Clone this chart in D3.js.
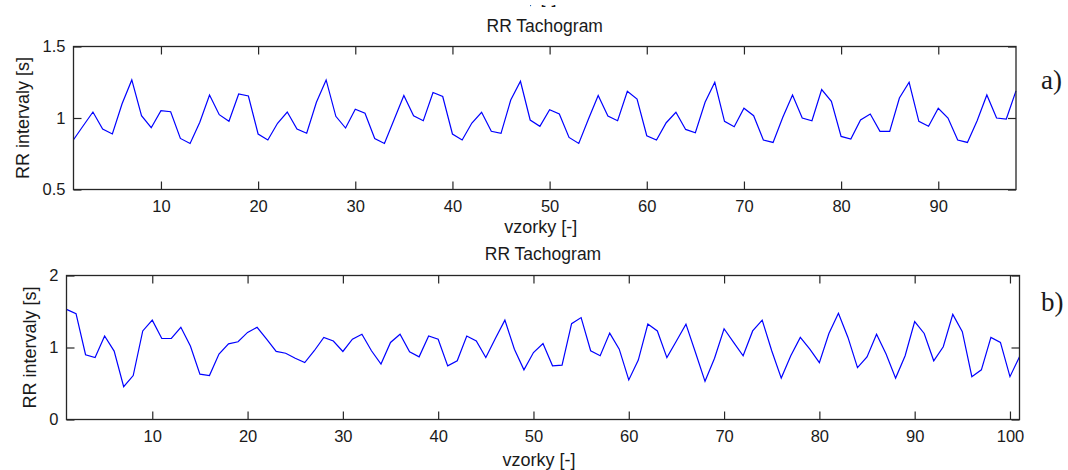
<!DOCTYPE html>
<html>
<head>
<meta charset="utf-8">
<script src="https://cdn.jsdelivr.net/npm/d3@7"></script>
<style>
body { margin: 0; background: #fff; }
svg text { font-family: "Liberation Sans", Arial, sans-serif; fill: #1a1a1a; }
</style>
</head>
<body>
<svg id="chart"></svg>
<script>
const width = 1068, height = 470;

// RR intervals [s], panel a) samples 1..98
const seriesA = [
    0.848, 0.946, 1.042, 0.923, 0.888, 1.100, 1.266, 1.016, 0.932, 1.051,
    1.044, 0.857, 0.822, 0.970, 1.161, 1.023, 0.977, 1.168, 1.154, 0.888,
    0.846, 0.963, 1.042, 0.923, 0.893, 1.110, 1.266, 1.012, 0.930, 1.061,
    1.033, 0.857, 0.822, 0.990, 1.157, 1.016, 0.981, 1.178, 1.150, 0.888,
    0.846, 0.965, 1.040, 0.907, 0.893, 1.126, 1.257, 0.986, 0.942, 1.058,
    1.028, 0.864, 0.822, 0.993, 1.157, 1.014, 0.981, 1.187, 1.133, 0.876,
    0.846, 0.967, 1.040, 0.920, 0.897, 1.110, 1.250, 0.977, 0.939, 1.068,
    1.016, 0.846, 0.829, 1.005, 1.161, 1.000, 0.981, 1.199, 1.117, 0.871,
    0.853, 0.986, 1.028, 0.907, 0.907, 1.140, 1.250, 0.977, 0.942, 1.068,
    1.000, 0.846, 0.829, 0.981, 1.161, 1.000, 0.993, 1.190
];

// RR intervals [s], panel b) samples 1..101
const seriesB = [
    1.530, 1.470, 0.900, 0.860, 1.160, 0.950, 0.455, 0.610, 1.230, 1.380,
    1.125, 1.125, 1.280, 1.020, 0.630, 0.610, 0.910, 1.050, 1.080, 1.210,
    1.280, 1.115, 0.945, 0.920, 0.850, 0.790, 0.955, 1.140, 1.090, 0.945,
    1.115, 1.185, 0.955, 0.770, 1.070, 1.185, 0.940, 0.870, 1.160, 1.115,
    0.745, 0.815, 1.160, 1.090, 0.860, 1.125, 1.380, 0.977, 0.690, 0.930,
    1.055, 0.745, 0.755, 1.330, 1.415, 0.955, 0.885, 1.200, 0.977, 0.550,
    0.825, 1.325, 1.230, 0.860, 1.090, 1.325, 0.930, 0.530, 0.850, 1.260,
    1.070, 0.885, 1.230, 1.380, 0.955, 0.575, 0.885, 1.140, 0.977, 0.790,
    1.195, 1.475, 1.140, 0.720, 0.870, 1.185, 0.910, 0.575, 0.885, 1.360,
    1.195, 0.815, 1.010, 1.460, 1.220, 0.595, 0.690, 1.140, 1.070, 0.595,
    0.870
];

const xTicksA = [10, 20, 30, 40, 50, 60, 70, 80, 90];
const xTicksB = [10, 20, 30, 40, 50, 60, 70, 80, 90, 100];
const yTicksA = [0.5, 1, 1.5];
const yTicksB = [0, 1, 2];
const chartTitle = "RR Tachogram";
const xLabel = "vzorky [-]";
const yLabel = "RR intervaly [s]";

const svg = d3.select("#chart")
    .attr("width", width)
    .attr("height", height);

// Panel layouts (plot box in pixels)
const panels = [
    { values: seriesA, xTicks: xTicksA, yTicks: yTicksA, yDomain: [0.5, 1.5],
      left: 73.5, right: 1016, top: 46.5, bottom: 189.5,
      titleY: 31.5, xLabelY: 233, yLabelX: 29, tag: "a)", tagY: 89 },
    { values: seriesB, xTicks: xTicksB, yTicks: yTicksB, yDomain: [0, 2],
      left: 66.5, right: 1019.5, top: 275.5, bottom: 419.5,
      titleY: 260, xLabelY: 466, yLabelX: 36, tag: "b)", tagY: 311 }
];

const tick = 8;

function drawPanel(p) {
    const x = d3.scaleLinear().domain([1, p.values.length]).range([p.left, p.right]);
    const y = d3.scaleLinear().domain(p.yDomain).range([p.bottom, p.top]);
    const g = svg.append("g");

    // Axes with inward ticks on all four sides
    const fmt = d => d3.format("~g")(d);
    g.append("g")
        .attr("transform", `translate(0,${p.bottom})`)
        .call(d3.axisBottom(x).tickValues(p.xTicks).tickSizeInner(-tick).tickSizeOuter(0).tickPadding(11).tickFormat(fmt));
    g.append("g")
        .attr("transform", `translate(0,${p.top})`)
        .call(d3.axisTop(x).tickValues(p.xTicks).tickSizeInner(-tick).tickSizeOuter(0).tickFormat(""));
    g.append("g")
        .attr("transform", `translate(${p.left},0)`)
        .call(d3.axisLeft(y).tickValues(p.yTicks).tickSizeInner(-tick).tickSizeOuter(0).tickPadding(8).tickFormat(fmt));
    g.append("g")
        .attr("transform", `translate(${p.right},0)`)
        .call(d3.axisRight(y).tickValues(p.yTicks).tickSizeInner(-tick).tickSizeOuter(0).tickFormat(""));

    g.selectAll(".domain").remove();
    g.selectAll(".tick line").attr("stroke", "#262626").attr("stroke-width", 1.2);
    g.selectAll(".tick text")
        .attr("font-size", 16.5)
        .attr("font-family", "'Liberation Sans', Arial, sans-serif")
        .attr("fill", "#1a1a1a");

    // Data line
    g.append("path")
        .datum(p.values)
        .attr("fill", "none")
        .attr("stroke", "#0000ff")
        .attr("stroke-width", 1.2)
        .attr("d", d3.line().x((d, i) => x(i + 1)).y(d => y(d)));

    // Box
    g.append("rect")
        .attr("x", p.left).attr("y", p.top)
        .attr("width", p.right - p.left).attr("height", p.bottom - p.top)
        .attr("fill", "none")
        .attr("stroke", "#262626")
        .attr("stroke-width", 1.3);

    const cx = (p.left + p.right) / 2;
    g.append("text")
        .attr("x", cx).attr("y", p.titleY)
        .attr("text-anchor", "middle")
        .attr("font-size", 17.5)
        .text(chartTitle);
    g.append("text")
        .attr("x", cx - 4).attr("y", p.xLabelY)
        .attr("text-anchor", "middle")
        .attr("font-size", 18)
        .text(xLabel);
    g.append("text")
        .attr("transform", `translate(${p.yLabelX},${(p.top + p.bottom) / 2}) rotate(-90)`)
        .attr("text-anchor", "middle")
        .attr("font-size", 18)
        .text(yLabel);
    g.append("text")
        .attr("x", 1041).attr("y", p.tagY)
        .attr("font-family", "'Liberation Serif', 'Times New Roman', serif")
        .attr("font-size", 27)
        .style("font-family", "'Liberation Serif', 'Times New Roman', serif")
        .attr("fill", "#000")
        .text(p.tag);
}

panels.forEach(drawPanel);

// Cut-off x label of the figure above (only its lowest pixels are visible)
svg.append("clipPath").attr("id", "cut")
    .append("rect").attr("x", 530).attr("y", 5).attr("width", 40).attr("height", 6);
svg.append("text")
    .attr("clip-path", "url(#cut)")
    .attr("x", 520).attr("y", 3)
    .attr("text-anchor", "middle")
    .attr("font-size", 18)
    .text(xLabel);
</script>
</body>
</html>
